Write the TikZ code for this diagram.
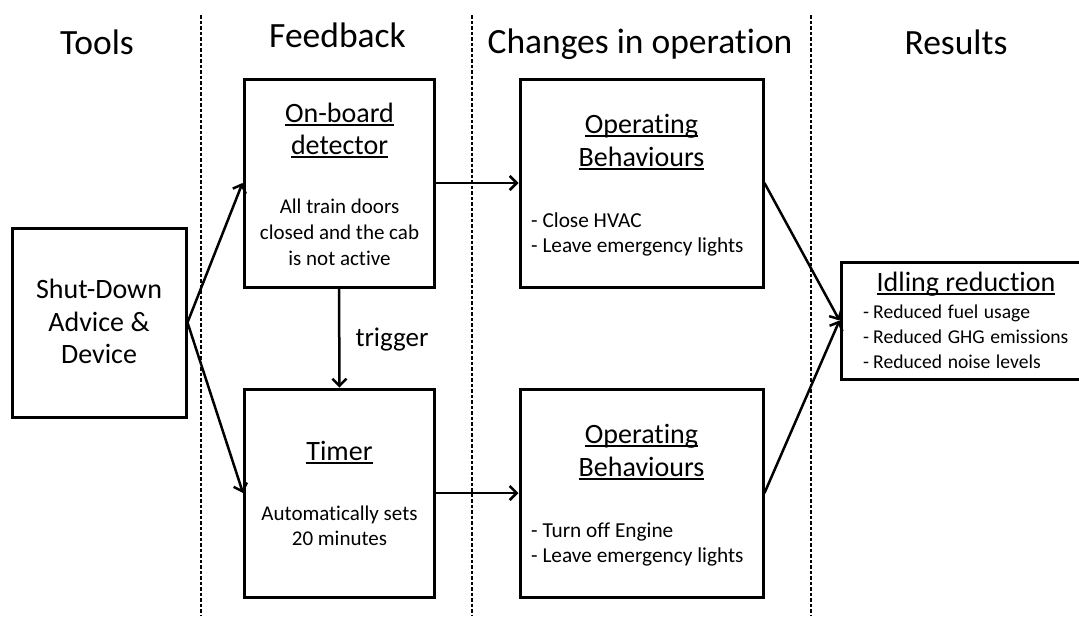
\documentclass[tikz,border=0pt]{standalone}
\usepackage{fontspec}
\setmainfont{Carlito}[Ligatures=NoCommon]
\usetikzlibrary{arrows.meta}
\newcommand\ulin[1]{\setbox0\hbox{#1}\rlap{\rule[-3.6pt]{\wd0}{1.3pt}}\box0}
\newcommand\widesp{\spaceskip=5.6pt\relax}
\newcommand\dsh{-\kern4pt}
\begin{document}
\begin{tikzpicture}[x=1pt,y=-1pt,
  box/.style={draw, line width=3pt, inner sep=0pt},
  arr/.style={line width=2.5pt, -{Straight Barb[length=7pt,width=14pt,line width=2.5pt]}},
  sep/.style={line width=1.3pt, dash pattern=on 3.5pt off 2pt},
  head/.style={anchor=base, inner sep=0pt, font=\fontsize{35.5}{40}\selectfont},
  ttl/.style={anchor=base, inner sep=0pt, font=\fontsize{28}{33}\selectfont},
  body/.style={anchor=base, inner sep=0pt, font=\fontsize{21}{25}\selectfont},
  lbody/.style={anchor=base west, inner sep=0pt, font=\fontsize{21.3}{25}\selectfont},
  ibody/.style={anchor=base west, inner sep=0pt, font=\fontsize{19.6}{24}\selectfont\widesp}]
\useasboundingbox (0,0) rectangle (1079,619);
% separators
\coordinate (s1t) at (201,15); \coordinate (s1b) at (201,615);
\coordinate (s2t) at (472,15); \coordinate (s2b) at (472,615);
\coordinate (s3t) at (811,15); \coordinate (s3b) at (811,615);
\draw[sep] (s1t) -- (s1b);
\draw[sep] (s2t) -- (s2b);
\draw[sep] (s3t) -- (s3b);
% headers
\node[head] (h1) at (97,54) {Tools};
\node[head] (h2) at (337.5,47) {Feedback};
\node[head] (h3) at (640,53) {Changes in operation};
\node[head] (h4) at (956,54) {Results};
% boxes
\node[box, minimum width=174pt, minimum height=189pt] (sd) at (99,322.5) {};
\node[box, minimum width=190pt, minimum height=208pt] (ob) at (339,183) {};
\node[box, minimum width=190pt, minimum height=208pt] (tm) at (339.5,493) {};
\node[box, minimum width=243pt, minimum height=208pt] (op1) at (641.5,183) {};
\node[box, minimum width=243pt, minimum height=208pt] (op2) at (641.5,493) {};
\node[box, minimum width=241pt, minimum height=117pt] (idl) at (961.5,320.5) {};
% shut-down text
\node[ttl] (sd1) at (99,298) {Shut-Down};
\node[ttl] (sd2) at (99,331) {Advice \&};
\node[ttl] (sd3) at (99,363) {Device};
% on-board
\node[ttl] (ob1) at (339.5,122) {\ulin{On-board}};
\node[ttl] (ob2) at (339.5,154) {\ulin{detector}};
\node[body] (ob3) at (339.5,213) {All train doors};
\node[body] (ob4) at (339.5,239) {closed and the cab};
\node[body] (ob5) at (339.5,265) {is not active};
% timer
\node[ttl] (tm1) at (339.5,460) {\ulin{Timer}};
\node[body] (tm2) at (339.5,520) {Automatically sets};
\node[body] (tm3) at (339.5,545) {20 minutes};
% operating behaviours 1
\node[ttl] (oa1) at (641.5,133) {\ulin{Operating}};
\node[ttl] (oa2) at (641.5,166) {\ulin{Behaviours}};
\node[lbody] (oa3) at (531,227) {- Close HVAC};
\node[lbody] (oa4) at (531,252) {- Leave emergency lights};
% operating behaviours 2
\node[ttl] (ob1b) at (641.5,443) {\ulin{Operating}};
\node[ttl] (ob2b) at (641.5,476) {\ulin{Behaviours}};
\node[lbody] (ob3b) at (531,537) {- Turn off Engine};
\node[lbody] (ob4b) at (531,562) {- Leave emergency lights};
% idling
\node[ttl] (id1) at (966,291) {\ulin{Idling reduction}};
\node[ibody] (id2) at (863,318) {\dsh Reduced fuel usage};
\node[ibody] (id3) at (863,343) {\dsh Reduced GHG emissions};
\node[ibody] (id4) at (863,368) {\dsh Reduced noise levels};
% connectors
\draw[arr] (sd.east) -- (ob.west);
\draw[arr] (sd.east) -- (tm.west);
\draw[arr] (ob.east) -- (op1.west);
\draw[arr] (tm.east) -- (op2.west);
\draw[arr] (ob.south) -- node[right, inner sep=0pt, xshift=15pt, yshift=-2pt, font=\fontsize{27}{30}\selectfont] (trg) {trigger} (tm.north);
\draw[arr] (op1.east) -- (idl.west);
\draw[arr] (op2.east) -- (idl.west);
\end{tikzpicture}
\end{document}
